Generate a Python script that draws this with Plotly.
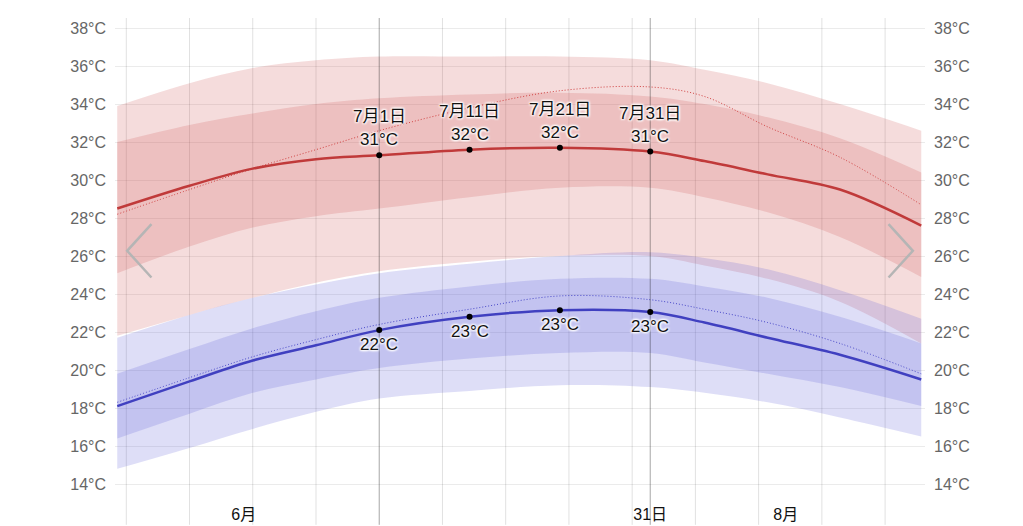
import plotly.graph_objects as go

dates = ["2024-06-02","2024-06-10","2024-06-17","2024-06-24","2024-07-01","2024-07-11",
         "2024-07-21","2024-07-31","2024-08-06","2024-08-13","2024-08-21","2024-08-30"]
hi_mean = [28.5,29.7,30.6,31.1,31.3,31.6,31.7,31.5,31.0,30.3,29.5,27.6]
hi_dot  = [28.2,29.5,30.6,31.6,32.6,33.8,34.7,34.9,34.4,32.8,31.2,28.7]
hi_p75  = [32.0,32.9,33.5,34.0,34.3,34.5,34.6,34.4,34.0,33.3,32.2,30.4]
hi_p25  = [25.1,26.5,27.5,28.1,28.5,29.1,29.6,29.6,29.1,28.3,27.0,24.9]
hi_p90  = [33.9,35.1,35.9,36.3,36.5,36.5,36.5,36.3,35.8,35.1,34.0,32.6]
hi_p10  = [21.8,22.9,23.8,24.6,25.2,25.7,26.0,26.0,25.5,24.8,23.6,21.4]
lo_mean = [18.1,19.4,20.5,21.3,22.1,22.8,23.15,23.05,22.5,21.7,20.8,19.5]
lo_dot  = [18.3,19.6,20.7,21.6,22.4,23.2,23.9,23.7,23.2,22.5,21.4,19.8]
lo_p75  = [19.8,21.1,22.2,23.1,23.8,24.4,24.8,24.8,24.4,23.8,22.8,21.4]
lo_p25  = [16.4,17.7,18.8,19.5,20.1,20.6,20.9,20.9,20.4,19.8,19.1,18.1]
lo_p90  = [21.7,22.9,23.8,24.5,25.1,25.6,26.0,26.2,25.9,25.3,24.2,22.7]
lo_p10  = [14.8,15.9,16.9,17.8,18.5,18.9,19.2,19.1,18.8,18.3,17.5,16.5]
lab_dates = ["2024-07-01","2024-07-11","2024-07-21","2024-07-31"]
lab_names = ["7月1日","7月11日","7月21日","7月31日"]
lab_hi = [31.3,31.6,31.7,31.5]
lab_lo = [22.1,22.8,23.15,23.05]
hi_txt = ["31°C","32°C","32°C","31°C"]
lo_txt = ["22°C","23°C","23°C","23°C"]
grid_dates = ["2024-06-03","2024-06-10","2024-06-17","2024-06-24","2024-07-08","2024-07-15",
              "2024-07-22","2024-07-29","2024-08-05","2024-08-12","2024-08-19","2024-08-26"]
dark_dates = ["2024-07-01","2024-07-31"]
tick_vals = ["2024-06-16","2024-07-31","2024-08-15"]
tick_text = ["6月","31日","8月"]
y_ticks = list(range(14, 39, 2))

FONT = "Liberation Sans, Noto Sans CJK JP"
fig = go.Figure()
def band(lo, hi, col):
    fig.add_trace(go.Scatter(x=dates, y=hi, mode="lines", line=dict(width=0, shape="spline"), showlegend=False, hoverinfo="skip"))
    fig.add_trace(go.Scatter(x=dates, y=lo, mode="lines", line=dict(width=0, shape="spline"), fill="tonexty",
                             fillcolor=col, showlegend=False, hoverinfo="skip"))
band(hi_p10, hi_p90, "rgba(205,80,80,0.2)")
band(hi_p25, hi_p75, "rgba(205,80,80,0.2)")
band(lo_p10, lo_p90, "rgba(90,90,215,0.2)")
band(lo_p25, lo_p75, "rgba(90,90,215,0.2)")
fig.add_trace(go.Scatter(x=dates, y=hi_dot, mode="lines", line=dict(color="#d04040", width=1, dash="1px,2px", shape="spline"), showlegend=False))
fig.add_trace(go.Scatter(x=dates, y=lo_dot, mode="lines", line=dict(color="#4848c8", width=1, dash="1px,2px", shape="spline"), showlegend=False))
fig.add_trace(go.Scatter(x=dates, y=hi_mean, mode="lines", line=dict(color="#c03a3a", width=2.5, shape="spline"), showlegend=False))
fig.add_trace(go.Scatter(x=dates, y=lo_mean, mode="lines", line=dict(color="#4040c0", width=2.5, shape="spline"), showlegend=False))
fig.add_trace(go.Scatter(x=lab_dates+lab_dates, y=lab_hi+lab_lo, mode="markers",
                         marker=dict(color="black", size=6), showlegend=False))
fig.add_trace(go.Scatter(x=dates, y=hi_mean, yaxis="y2", mode="lines", line=dict(width=0), showlegend=False, hoverinfo="skip"))

sh = dict(size=17, color="#111", family=FONT,
          shadow="1px 1px 2px white, -1px -1px 2px white, 1px -1px 2px white, -1px 1px 2px white")
for d, n, h, ht, l, lt in zip(lab_dates, lab_names, lab_hi, hi_txt, lab_lo, lo_txt):
    fig.add_annotation(x=d, y=h, text=ht, showarrow=False, yanchor="bottom", yshift=4, font=sh)
    fig.add_annotation(x=d, y=h, text=n, showarrow=False, yanchor="bottom", yshift=27, font=sh)
    fig.add_annotation(x=d, y=l, text=lt, showarrow=False, yanchor="top", yshift=-3, font=sh)

shapes = []
for g in grid_dates:
    shapes.append(dict(type="line", x0=g, x1=g, xref="x", yref="paper", y0=-0.045, y1=1,
                       line=dict(color="rgba(0,0,0,0.12)", width=1), layer="below"))
for g in dark_dates:
    shapes.append(dict(type="line", x0=g, x1=g, xref="x", yref="paper", y0=-0.045, y1=1,
                       line=dict(color="rgba(0,0,0,0.35)", width=1), layer="above"))
shapes.append(dict(type="path", xref="paper", yref="paper", path="M 0.045,0.575 L 0.015,0.52 L 0.045,0.465",
                   line=dict(color="#b5b5b5", width=2.5)))
shapes.append(dict(type="path", xref="paper", yref="paper", path="M 0.955,0.575 L 0.985,0.52 L 0.955,0.465",
                   line=dict(color="#b5b5b5", width=2.5)))
ax_y = dict(range=[13, 38.53], tickvals=y_ticks, ticktext=[f"{v}°C" for v in y_ticks],
            zeroline=False, ticklabelstandoff=8, automargin=False)
fig.update_layout(
    width=1023, height=526, margin=dict(l=107, r=106, t=10, b=31),
    plot_bgcolor="white", paper_bgcolor="white", shapes=shapes,
    font=dict(family=FONT, size=16, color="#666"),
    xaxis=dict(range=["2024-06-01T18:00", "2024-08-30T10:00"], tickvals=tick_vals, ticktext=tick_text,
               showgrid=False, zeroline=False, tickfont=dict(color="#111", size=16), automargin=False),
    yaxis=dict(gridcolor="rgba(0,0,0,0.08)", **ax_y),
    yaxis2=dict(overlaying="y", side="right", showgrid=False, **ax_y),
)
fig.write_html("out.html")
